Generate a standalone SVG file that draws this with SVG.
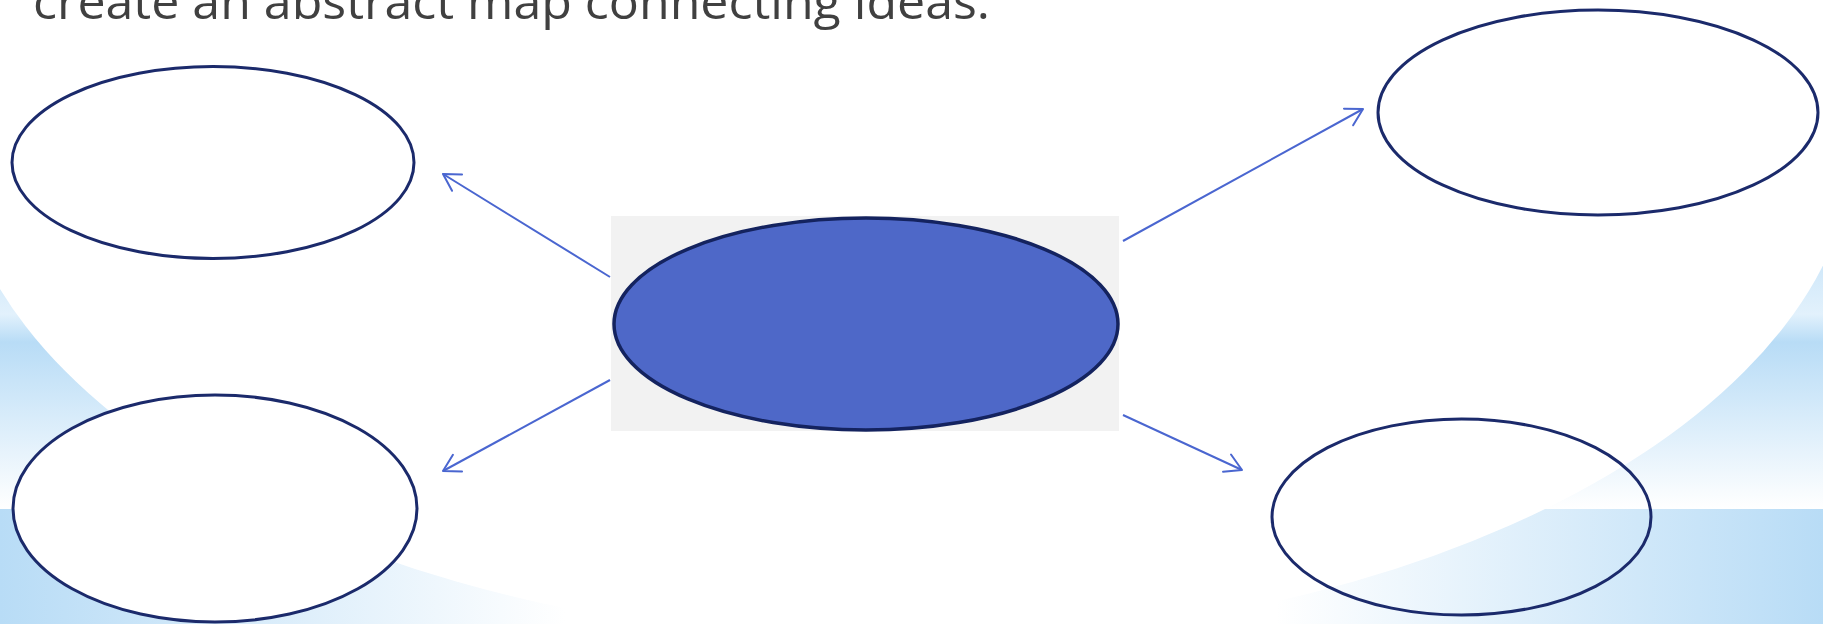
<svg xmlns="http://www.w3.org/2000/svg" width="1823" height="624" viewBox="0 0 1823 624">
  <style>
    .node { fill: #ffffff; stroke: #1b2a6b; stroke-width: 3; }
    .open { fill: none; }
    .conn { fill: none; stroke: #4a66d0; stroke-width: 2; marker-end: url(#arr); }
    .title { font-family: "Open Sans", "Liberation Sans", sans-serif; font-size: 48px; fill: #404040; }
  </style>
  <defs>
    <linearGradient id="gTop" gradientUnits="userSpaceOnUse" x1="0" y1="200" x2="0" y2="509">
      <stop offset="0" stop-color="#b8dcf6"/>
      <stop offset="0.37" stop-color="#e2f1fc"/>
      <stop offset="0.46" stop-color="#b8dcf6"/>
      <stop offset="1" stop-color="#ffffff"/>
    </linearGradient>
    <linearGradient id="gBot" gradientUnits="userSpaceOnUse" x1="0" y1="0" x2="1823" y2="0">
      <stop offset="0" stop-color="#b8dcf6"/>
      <stop offset="0.31" stop-color="#ffffff"/>
      <stop offset="0.70" stop-color="#ffffff"/>
      <stop offset="1" stop-color="#b8dcf6"/>
    </linearGradient>
    <marker id="arr" markerUnits="userSpaceOnUse" markerWidth="40" markerHeight="40" refX="0" refY="0" orient="auto" overflow="visible">
      <path d="M-16.5,-9.5 L0,0 L-16.5,9.5" fill="none" stroke="#4a66d0" stroke-width="2" stroke-linejoin="round" stroke-linecap="round"/>
    </marker>
  </defs>

  <g id="background">
    <rect x="0" y="0" width="1823" height="624" fill="#ffffff"/>
    <rect x="0" y="200" width="1823" height="309" fill="url(#gTop)"/>
    <rect x="0" y="509" width="1823" height="115" fill="url(#gBot)"/>
    <ellipse cx="905" cy="130" rx="952" ry="512" fill="#ffffff"/>
  </g>

  <text class="title" x="33" y="19" textLength="957" lengthAdjust="spacingAndGlyphs">create an abstract map connecting ideas.</text>

  <g id="connectors">
    <line class="conn" x1="610" y1="277" x2="443" y2="174"/>
    <line class="conn" x1="610" y1="380" x2="443" y2="471"/>
    <line class="conn" x1="1123" y1="241" x2="1363" y2="109"/>
    <line class="conn" x1="1123" y1="415" x2="1242" y2="470"/>
  </g>

  <g id="center">
    <rect x="611" y="216" width="508" height="215" fill="#f2f2f2"/>
    <ellipse cx="866" cy="324" rx="252" ry="106" fill="#4e68c8" stroke="#14235f" stroke-width="3.5"/>
  </g>

  <g id="node-top-left">
    <ellipse class="node" cx="213" cy="162.5" rx="201" ry="96"/>
  </g>
  <g id="node-bottom-left">
    <ellipse class="node" cx="215" cy="508.5" rx="202" ry="113.5"/>
  </g>
  <g id="node-top-right">
    <ellipse class="node" cx="1598" cy="112.5" rx="220" ry="102.5"/>
  </g>
  <g id="node-bottom-right">
    <ellipse class="node open" cx="1461.5" cy="517" rx="189.5" ry="98"/>
  </g>
</svg>
